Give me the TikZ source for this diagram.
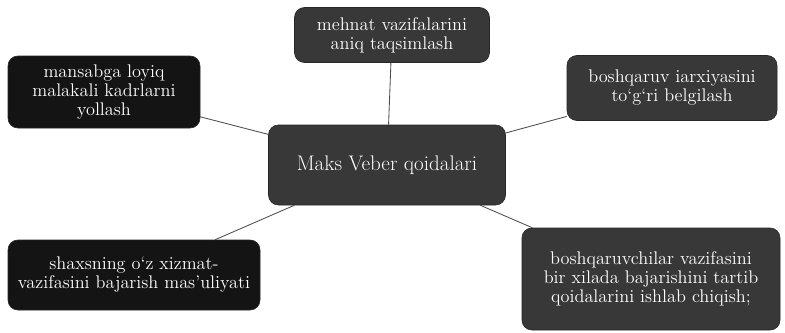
\documentclass[tikz,border=0pt]{standalone}
\usetikzlibrary{positioning}

\tikzset{
  box/.style={draw=black!85, fill=black!78, text=white, rounded corners=7pt,
    align=center, inner sep=2pt, font=\fontsize{13}{13.5}\selectfont},
  darkbox/.style={box, fill=black!92},
  link/.style={draw=black!70, line width=0.6pt}
}

\begin{document}
\begin{tikzpicture}[x=0.025cm,y=-0.025cm]
		\useasboundingbox (0,0) rectangle (785,332);
		%
		\node[box, minimum width=237*0.025cm, minimum height=80*0.025cm, font=\fontsize{15}{16}\selectfont] (veber) at (387,165) {Maks Veber qoidalari};
		\node[box, minimum width=195*0.025cm, minimum height=55*0.025cm] (mehnat) at (392,35) {mehnat vazifalarini\\aniq taqsimlash};
		\node[darkbox, minimum width=192*0.025cm, minimum height=72*0.025cm] (kadr) at (104,92) {mansabga loyiq\\malakali kadrlarni\\yollash};
		\node[box, minimum width=210*0.025cm, minimum height=65*0.025cm] (iyer) at (672,88) {boshqaruv iarxiyasini\\to‘g‘ri belgilash};
		\node[darkbox, minimum width=252*0.025cm, minimum height=70*0.025cm] (shaxs) at (134,275) {shaxsning o‘z xizmat-\\vazifasini bajarish mas’uliyati};
		\node[box, minimum width=258*0.025cm, minimum height=102*0.025cm] (qoida) at (651,279) {boshqaruvchilar vazifasini\\bir xilada bajarishini tartib\\qoidalarini ishlab chiqish;};
		%
		\path[link]
		(veber) edge (mehnat)
			edge (kadr)
			edge (iyer)
			edge (shaxs)
			edge (qoida);
	\end{tikzpicture}
\end{document}
